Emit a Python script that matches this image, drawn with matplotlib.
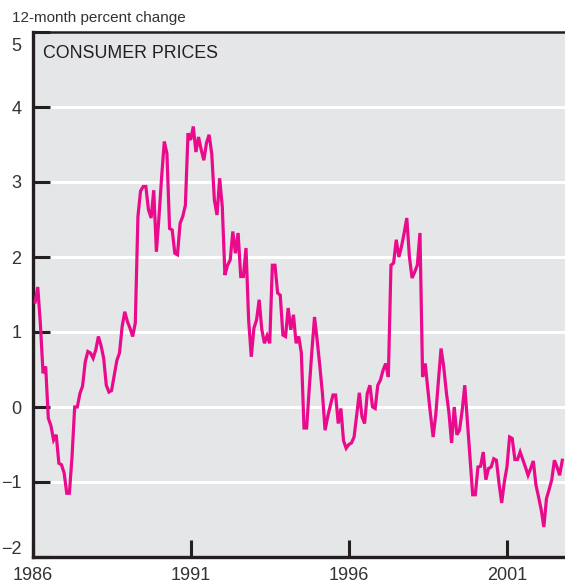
import numpy as np
import matplotlib
matplotlib.use("Agg")
import matplotlib.pyplot as plt
import matplotlib.transforms as mtransforms

# ---- data: 12-month percent change, monthly, starting Feb 1986 ----
start_year = 1986
cpi_change = [
    1.40, 1.60, 1.10, 0.45, 0.54, -0.15, -0.25, -0.44, -0.37, -0.75,   # m1-10
    -0.77, -0.88, -1.15, -1.15, -0.66, 0.00, 0.00, 0.18, 0.28, 0.60,   # m11-20
    0.74, 0.72, 0.65, 0.76, 0.94, 0.82, 0.65, 0.29, 0.20, 0.22,        # m21-30
    0.42, 0.62, 0.72, 1.07, 1.27, 1.14, 1.05, 0.94, 1.12, 2.54,        # m31-40
    2.88, 2.94, 2.94, 2.63, 2.52, 2.89, 2.07, 2.54, 3.07, 3.54,        # m41-50
    3.38, 2.38, 2.36, 2.05, 2.03, 2.45, 2.54, 2.69, 3.65, 3.56,        # m51-60
    3.74, 3.40, 3.60, 3.43, 3.29, 3.52, 3.63, 3.38, 2.76, 2.56,        # m61-70
    3.05, 2.67, 1.76, 1.89, 1.96, 2.34, 2.05, 2.32, 1.74, 1.74,        # m71-80
    2.12, 1.16, 0.67, 1.05, 1.16, 1.43, 1.03, 0.85, 0.95, 0.85,        # m81-90
    1.89, 1.89, 1.52, 1.49, 0.96, 0.94, 1.32, 1.03, 1.23, 0.85,        # m91-100
    0.94, 0.72, -0.28, -0.28, 0.25, 0.75, 1.20, 0.89, 0.55, 0.18,      # m101-110
    -0.31, -0.13, 0.02, 0.16, 0.16, -0.22, -0.02, -0.45, -0.55, -0.50, # m111-120
    -0.48, -0.40, -0.10, 0.19, -0.13, -0.22, 0.18, 0.29, 0.00, -0.02,  # m121-130
    0.29, 0.36, 0.49, 0.58, 0.40, 1.89, 1.92, 2.23, 2.00, 2.14,        # m131-140
    2.32, 2.52, 2.00, 1.72, 1.80, 1.89, 2.32, 0.40, 0.58, 0.23,        # m141-150
    -0.10, -0.40, -0.10, 0.35, 0.78, 0.54, 0.20, -0.08, -0.48, 0.00,   # m151-160
    -0.37, -0.31, -0.05, 0.29, -0.20, -0.71, -1.17, -1.17, -0.80, -0.79,  # m161-170
    -0.60, -0.97, -0.82, -0.80, -0.69, -0.71, -1.02, -1.28, -1.00, -0.80, # m171-180
    -0.40, -0.42, -0.70, -0.70, -0.60, -0.70, -0.80, -0.91, -0.82, -0.72, # m181-190
    -1.04, -1.20, -1.37, -1.60, -1.22, -1.10, -0.97, -0.71, -0.80, -0.91, # m191-200
    -0.71,
]
y_ticks = [-2, -1, 0, 1, 2, 3, 4, 5]
y_tick_labels = ["\u22122", "\u22121", "0", "1", "2", "3", "4", "5"]
x_ticks = [1986, 1991, 1996, 2001]

dates = start_year + np.arange(1, len(cpi_change) + 1) / 12.0

plt.rcParams["font.family"] = ["Liberation Sans", "DejaVu Sans"]

BG = "#e5e6e8"
INK = "#231f20"
LABEL = "#333333"
MAGENTA = "#ea0a8c"

fig = plt.figure(figsize=(5.65, 5.86), dpi=100)
ax = fig.add_axes([32.5 / 565, 29 / 586, (565 - 32.5) / 565, 525 / 586])
ax.set_facecolor(BG)

# white gridlines between the frame lines
for v in y_ticks[1:-1]:
    ax.axhline(v, color="white", lw=2.2, zorder=1)

ax.plot(dates, cpi_change, color=MAGENTA, lw=2.3, zorder=3,
        solid_joinstyle="miter")

ax.set_xlim(1986, 1986 + 532.5 / 31.63)
ax.set_ylim(-2, 5)

ax.set_yticks(y_ticks)
ax.set_yticklabels(y_tick_labels)
ax.set_xticks(x_ticks)
ax.set_xticklabels([str(t) for t in x_ticks])

ax.tick_params(axis="both", direction="in", length=12, width=2.2,
               color=INK, labelsize=13, labelcolor=LABEL)
ax.tick_params(axis="y", pad=8)
ax.tick_params(axis="x", pad=7)

# top and bottom labels sit inside the frame, as in the original
shifts = {"5": -9, "\u22122": 7}
for lab in ax.get_yticklabels():
    dy = shifts.get(lab.get_text())
    if dy:
        lab.set_transform(lab.get_transform() +
                          mtransforms.ScaledTranslation(0, dy / 72, fig.dpi_scale_trans))

ax.spines["right"].set_visible(False)
ax.spines["left"].set_linewidth(2.4)
ax.spines["bottom"].set_linewidth(2.4)
ax.spines["top"].set_linewidth(1.8)
for s in ("left", "bottom", "top"):
    ax.spines[s].set_color(INK)

ax.text(0.02, 0.975, "CONSUMER PRICES", transform=ax.transAxes,
        ha="left", va="top", fontsize=12.8, color=INK)
fig.text(12 / 565, 1 - 18 / 586, "12-month percent change",
         ha="left", va="center", fontsize=11, color=LABEL)

fig.savefig("out.png", dpi=100, facecolor="white")
